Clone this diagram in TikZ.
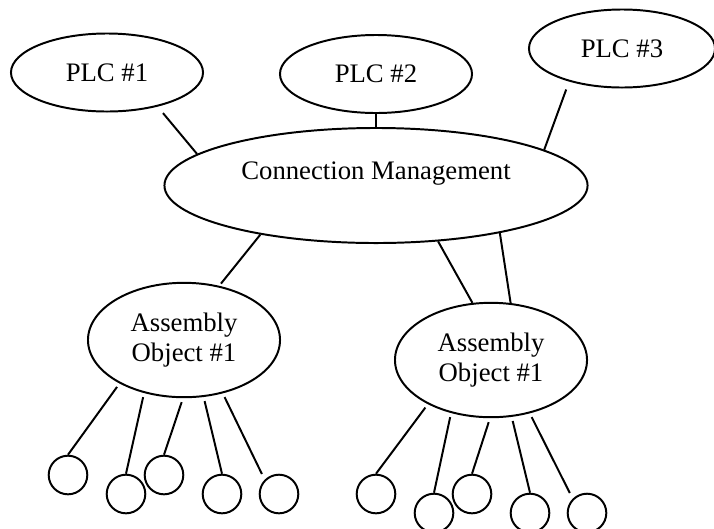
\documentclass[tikz,border=0pt]{standalone}
\usepackage{fontspec}
\setmainfont{Liberation Serif}
\usetikzlibrary{shapes.geometric}
\definecolor{netInk}{HTML}{000000}
\tikzset{
  net link/.style={draw=netInk, line width=1.4pt},
  net oval/.style={ellipse, draw=netInk, line width=1.4pt, inner sep=0pt, text=netInk, font=\fontsize{19}{21.3}\selectfont},
  net plc/.style={net oval, minimum width=4.8cm, minimum height=1.95cm},
  net hub/.style={net oval, minimum width=10.575cm, minimum height=2.875cm, text height=14pt, text depth=22pt},
  net asm/.style={net oval, align=center, minimum width=4.8cm, minimum height=2.86cm},
  net leaf/.style={circle, draw=netInk, line width=1.4pt, minimum size=0.965cm, inner sep=0pt},
}

\begin{document}
\begin{tikzpicture}[x=0.025cm, y=-0.025cm]
  \useasboundingbox (0,0) rectangle (714,528);

  \node[net plc] (plc1) at (107,72.5) {PLC \#1};
  \node[net plc] (plc2) at (376,74) {PLC \#2};
  \node[net plc, minimum width=4.65cm] (plc3) at (622,48.5) {PLC \#3};
  \node[net hub] (conn) at (376,185.5) {Connection Management};
  \node[net asm] (asm1) at (184,340) {Assembly\\Object \#1};
  \node[net asm] (asm2) at (491,360) {Assembly\\Object \#1};

  % PLCs into the connection manager
  \draw[net link, shorten <=6pt] (plc1.-34) -- (conn.170);
  \draw[net link] (plc2.south) -- (conn.north);
  \draw[net link, shorten <=6pt] (plc3.-148) -- (conn.12);

  % connection manager down to the assemblies
  \draw[net link, shorten >=2pt] (conn.-157) -- (asm1.57);
  \draw[net link] (conn.-42) -- (asm2.108);
  \draw[net link] (conn.-21) -- (asm2.71);

  % member objects of each assembly
  \foreach \n/\x/\y/\a/\b/\s in {1/68/475/-146/north/0pt, 2/126/494/-127/north/0pt,
      3/164/475/-91/north/0pt, 4/222/494/-71/north/0pt, 5/279/494/-54/135/4.5pt} {
    \node[net leaf] (asm1-\n) at (\x,\y) {};
    \draw[net link, shorten <=3pt, shorten >=\s] (asm1.\a) -- (asm1-\n.\b);
  }
  \foreach \n/\x/\y/\a/\b/\s in {1/376/494/-145/north/0pt, 2/434/513/-127/north/0pt,
      3/472/494/-91/north/0pt, 4/530/513/-70/north/0pt, 5/587/513/-54/135/4.5pt} {
    \node[net leaf] (asm2-\n) at (\x,\y) {};
    \draw[net link, shorten <=3pt, shorten >=\s] (asm2.\a) -- (asm2-\n.\b);
  }
\end{tikzpicture}
\end{document}
